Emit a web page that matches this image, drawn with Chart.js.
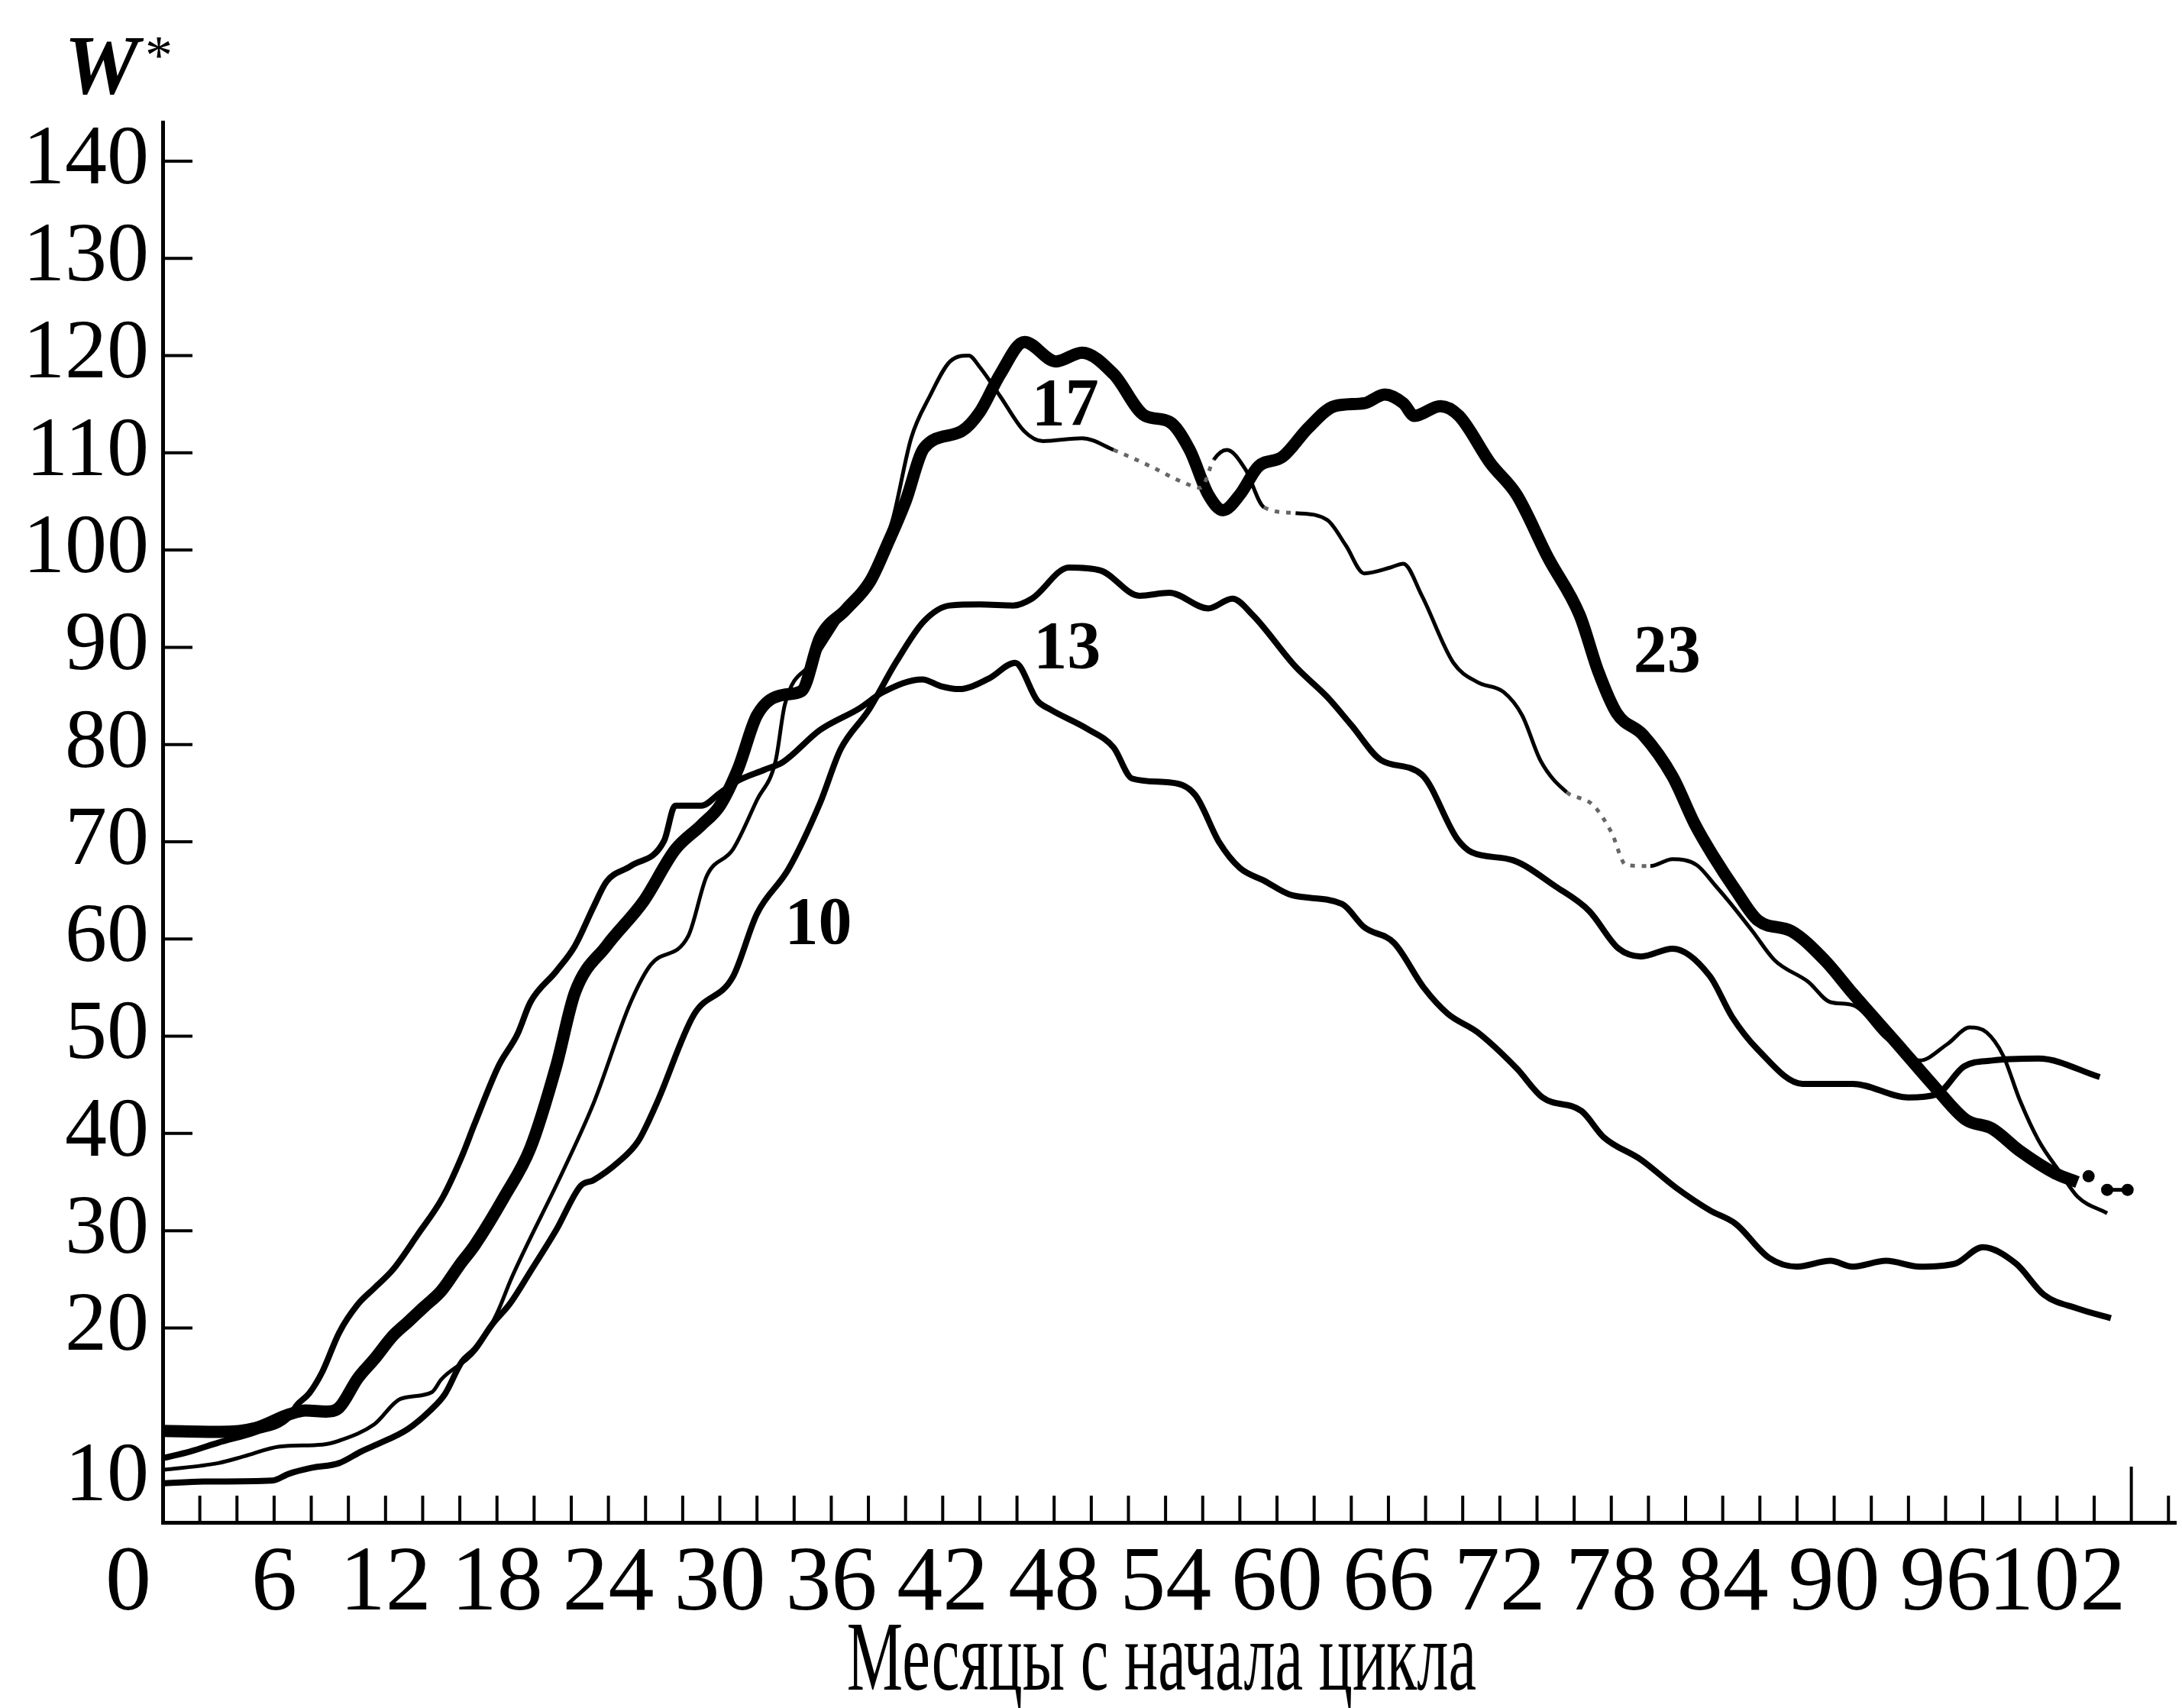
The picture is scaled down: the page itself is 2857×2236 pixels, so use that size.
<!DOCTYPE html>
<html>
<head>
<meta charset="utf-8">
<title>W* — месяцы с начала цикла</title>
<script src="https://cdn.jsdelivr.net/npm/chart.js@4/dist/chart.umd.min.js"></script>
<style>
  html, body { margin: 0; padding: 0; background: #fff; overflow: hidden; }
  canvas { display: block; }
</style>
</head>
<body>
<canvas id="chart" width="2857" height="2236"></canvas>
<script>
//Axis ticks
const xTickValues = [0, 6, 12, 18, 24, 30, 36, 42, 48, 54, 60, 66, 72, 78, 84, 90, 96, 102];
const yTickValues = [20, 30, 40, 50, 60, 70, 80, 90, 100, 110, 120, 130, 140];
const bottomLabel = '10';
const bottomLabelAt = 4.55;   // the "10" sits low on the printed axis, without a tick
const xTitle = 'Месяцы с начала цикла';
const yTitle = 'W';

//Cycle 10
const m10 = [0, 2.2, 5.9, 6.8, 8, 9.5, 10.7, 11.4, 13.2, 14.4, 15.2, 16.1, 16.8, 17.8, 18.7, 19.8, 21.2, 22.5, 23.2, 24.5,
  25.6, 26.6, 28.6, 30.7, 32, 33.7, 35.4, 36.5, 38, 39.5, 41, 42.4, 44, 45.8, 46.8, 48.8, 50.5, 52.6, 54.2, 56.3,
  57.6, 58.7, 61, 62.7, 64, 65.6, 67.8, 69.7, 70.5, 72.7, 75, 76.8, 78.4, 79.6, 81.3, 83.3, 84.5, 85.9, 88.3, 91,
  94, 95.5, 97, 98.5, 101, 104.3];
const w10 = [4.0, 4.2, 4.3, 5.0, 5.6, 6.1, 7.3, 7.9, 9.6, 11.5, 13.2, 16.5, 17.8, 20.5, 22.5, 25.8, 30.1, 34.6, 35.2, 37.0,
  39.2, 43.1, 52.2, 56.1, 62.6, 67.2, 74.0, 79.5, 83.5, 88.5, 92.7, 94.3, 94.4, 94.3, 95.0, 98.2, 97.9, 95.3, 95.6, 94.0,
  95.0, 93.3, 88.0, 84.9, 82.0, 78.4, 76.9, 70.3, 68.9, 68.1, 65.4, 62.9, 59.0, 58.2, 59.0, 56.2, 52.0, 48.6, 45.1, 45.1,
  43.7, 44.0, 46.9, 47.5, 47.7, 45.8];

//Cycle 13
const m13 = [0, 1.5, 3, 5, 6.8, 7.2, 7.9, 8.6, 9.5, 10.5, 11.4, 12.4, 13.7, 15.1, 16.1, 16.8, 18.1, 19.1, 19.8, 21.2,
  22.2, 23.2, 23.9, 25.2, 27, 27.6, 29, 30, 31, 32.4, 33.4, 35.4, 37.5, 38.8, 40.9, 41.9, 42.9, 44.5, 45.9, 47.1,
  47.8, 49.8, 51.2, 52.2, 54.2, 55.6, 56.9, 58, 59.3, 60.8, 63.5, 64.7, 66.3, 67.9, 69.2, 70.8, 72.9, 74.3, 76.4, 77.6,
  79.6, 81.5, 83.3, 84.7, 86.5, 88, 89.8, 91, 92.8, 94.6, 96.5, 98, 99.8, 101.3, 103.1, 104.9];
const w13 = [6.6, 7.3, 8.2, 9.3, 10.8, 12.0, 13.3, 15.5, 19.5, 22.4, 24.1, 26.0, 29.5, 33.5, 37.6, 41.0, 47.0, 50.2, 53.5, 56.7,
  59.3, 63.3, 65.9, 67.5, 70.1, 73.7, 73.7, 75.0, 76.3, 77.4, 78.2, 81.5, 83.7, 85.4, 86.7, 86.0, 85.7, 86.8, 88.4, 84.5,
  83.6, 81.6, 79.7, 76.5, 76.1, 74.8, 69.9, 67.3, 66.0, 64.5, 63.6, 61.2, 59.6, 55.0, 52.3, 50.4, 46.7, 43.7, 42.3, 39.6,
  37.3, 34.4, 32.1, 30.7, 27.2, 26.3, 26.9, 26.3, 26.9, 26.3, 26.6, 28.3, 26.6, 23.4, 22.0, 21.0];

//Cycle 17
const m17 = [0, 3, 4.4, 6.3, 8.6, 9.5, 11.4, 12.8, 14.5, 15, 16.9, 18, 18.8, 21.5, 23.2, 25.2, 26.3, 28.3, 29.3, 30.7,
  32, 33, 33.5, 35, 37, 38.5, 39.3, 40.3, 41.3, 42.4, 43.4, 44, 45.1, 46.4, 47.4, 49.5, 51.2, 53.2, 54.9, 55.9,
  56.6, 57.3, 58.3, 59.3, 61, 62.7, 63.7, 64.7, 66.1, 66.8, 67.8, 69.5, 70.8, 72.2, 73.2, 74.2, 75.6, 77, 78, 78.8,
  80.1, 81.3, 82.6, 83.6, 84.4, 85.6, 86.8, 88.6, 89.8, 91, 92.8, 94.6, 96.1, 97.3, 98.2, 99.1, 100, 101, 102.2, 103.1,
  104.7];
const w17 = [5.4, 6.1, 6.8, 7.8, 8.0, 8.4, 10.1, 12.7, 13.4, 14.7, 17.8, 21.5, 25.2, 35.9, 43.1, 53.5, 57.4, 60.3, 66.5, 69.2,
  74.3, 78.3, 84.1, 88.5, 94.5, 99.0, 103.1, 111.5, 115.8, 119.4, 120.0, 118.8, 115.8, 112.2, 111.2, 111.5, 110.3, 108.6, 107.0, 106.4,
  109.3, 110.3, 108.3, 104.4, 103.8, 103.1, 100.5, 97.6, 98.2, 98.6, 95.3, 88.4, 86.4, 85.4, 83.0, 78.3, 75.1, 73.8, 71.0, 67.6,
  67.5, 68.2, 67.6, 65.5, 63.7, 60.8, 57.8, 55.6, 53.5, 53.2, 49.8, 47.5, 49.2, 50.9, 50.4, 48.0, 43.4, 39.3, 35.9, 33.5,
  31.8];
// stretches where the printed thin line is faded / broken
const faded17 = [[50, 56], [58.8, 60.8], [75.5, 79.5]];

//Cycle 23
const m23 = [0, 3.1, 5, 6.8, 7.7, 8.8, 9.5, 10.5, 11.4, 12.4, 13.2, 14.1, 15, 16, 16.8, 18.4, 19.8, 21.2, 22.2, 23.9,
  25.9, 27.6, 29, 30, 31, 32, 33.4, 34.4, 35.4, 36.8, 38.1, 39, 40, 41, 43, 44, 45.1, 46.4, 48.1, 49.5,
  51.2, 52.9, 54.2, 55.3, 56.3, 57.1, 58, 59, 60.3, 61.7, 63.1, 64.7, 65.8, 66.8, 67.4, 68.8, 69.8, 71.5, 72.9, 74.6,
  76.3, 77.3, 78.3, 79.7, 81.3, 82.5, 83.5, 84.7, 85.9, 87.7, 89.5, 91, 93.4, 95.5, 97.1, 98.5, 100, 101.9, 103.1];
const w23 = [9.4, 9.3, 9.7, 11.1, 11.5, 11.4, 11.8, 14.8, 16.8, 19.2, 20.6, 22.2, 23.8, 26.5, 28.5, 33.5, 38.5, 47.0, 54.5, 59.3,
  63.9, 69.2, 71.7, 73.7, 77.6, 83.0, 85.1, 85.5, 91.0, 93.9, 96.8, 100.5, 105.0, 110.5, 112.2, 114.2, 118.1, 121.4, 119.4, 120.3,
  118.1, 113.8, 113.2, 110.3, 105.7, 104.1, 105.7, 108.6, 109.6, 112.6, 114.8, 115.1, 116.0, 115.1, 113.8, 114.8, 113.8, 108.9, 105.7, 99.2,
  93.3, 87.5, 83.2, 81.0, 76.7, 71.8, 68.5, 65.0, 61.9, 60.8, 57.8, 54.4, 49.2, 44.6, 41.4, 40.5, 38.2, 35.9, 35.0];

//Cycle 23 dots at the end (null breaks the line after the first dot)
const dotMonths = [103.7, 104.2, 104.7, 105.8];
const dotW = [35.6, null, 34.2, 34.2];

//Curve numbers
const curveNames = ['17', '13', '10', '23'];
const curveNameMonths = [48.6, 48.7, 35.3, 81.0];
const curveNameW = [115.2, 90.2, 61.8, 89.8];

const serif = "'Liberation Serif', 'Times New Roman', serif";

function toPoints(ms, ws) {
  return ms.map((m, i) => ({x: m, y: ws[i]}));
}

function series(label, ms, ws, width) {
  return {
    label: label,
    data: toPoints(ms, ws),
    borderColor: '#000',
    borderWidth: width,
    pointRadius: 0,
    fill: false,
    cubicInterpolationMode: 'monotone'
  };
}

function isFaded(c) {
  let m = c.p0.parsed.x;
  return faded17.some(r => m >= r[0] && m < r[1]);
}

//tick marks inside the frame, curve numbers, W* and the axis title
const extras = {
  id: 'extras',
  afterDraw(chart) {
    const ctx = chart.ctx;
    const x = chart.scales.x;
    const y = chart.scales.y;
    ctx.save();
    ctx.strokeStyle = '#000';
    ctx.fillStyle = '#000';
    ctx.lineWidth = 4;
    ctx.beginPath();
    for (let m = 2; m <= 108; m += 2) {
      let px = x.getPixelForValue(m);
      let len = m === 106 ? 73 : 35;
      ctx.moveTo(px, y.bottom);
      ctx.lineTo(px, y.bottom - len);
    }
    yTickValues.forEach(v => {
      let py = y.getPixelForValue(v);
      ctx.moveTo(x.left, py);
      ctx.lineTo(x.left + 39, py);
    });
    ctx.stroke();

    ctx.font = 'bold 88px ' + serif;
    ctx.textAlign = 'center';
    ctx.textBaseline = 'alphabetic';
    curveNames.forEach((name, i) => {
      ctx.fillText(name, x.getPixelForValue(curveNameMonths[i]), y.getPixelForValue(curveNameW[i]) + 29);
    });

    ctx.textAlign = 'left';
    ctx.font = 'bold italic 110px ' + serif;
    ctx.fillText(yTitle, 84, 122);
    ctx.font = '72px ' + serif;
    ctx.fillText('*', 190, 96);

    // condensed title, like the printed one
    ctx.save();
    ctx.translate(1521, 2212);
    ctx.scale(0.635, 1);
    ctx.textAlign = 'center';
    ctx.font = '130px ' + serif;
    ctx.fillText(xTitle, 0, 0);
    ctx.restore();
    ctx.restore();
  }
};

let c17 = series('17', m17, w17, 5);
c17.segment = {
  borderColor: c => isFaded(c) ? '#666' : undefined,
  borderDash: c => isFaded(c) ? [6, 9] : undefined
};

let dots = series('23 dots', dotMonths, dotW, 5);
dots.pointRadius = 8;
dots.pointBackgroundColor = '#000';
dots.pointBorderWidth = 0;
dots.spanGaps = false;

const chart = new Chart(document.getElementById('chart'), {
  type: 'line',
  data: {
    datasets: [
      c17,
      series('10', m10, w10, 8),
      series('13', m13, w13, 8),
      series('23', m23, w23, 16),
      dots
    ]
  },
  options: {
    responsive: false,
    animation: false,
    devicePixelRatio: 1,
    layout: {padding: {top: 160, left: 0, right: 0, bottom: 0}},
    plugins: {legend: {display: false}, tooltip: {enabled: false}},
    scales: {
      x: {
        type: 'linear',
        min: 0,
        max: 108.4,
        grid: {display: false, drawTicks: false},
        border: {display: true, color: '#000', width: 5},
        afterBuildTicks: scale => { scale.ticks = xTickValues.map(v => ({value: v})); },
        afterFit: scale => { scale.height = 243; },
        ticks: {
          autoSkip: false,
          maxRotation: 0,
          padding: 10,
          color: '#000',
          font: {family: serif, size: 120},
          callback: v => v === 0 ? '0\u00a0\u00a0\u00a0' : String(v)
        }
      },
      y: {
        min: 0,
        max: 144,
        grid: {display: false, drawTicks: false},
        border: {display: true, color: '#000', width: 5},
        afterBuildTicks: scale => {
          scale.ticks = [{value: bottomLabelAt}].concat(yTickValues.map(v => ({value: v})));
        },
        afterFit: scale => { scale.width = 213; },
        ticks: {
          autoSkip: false,
          padding: 18,
          color: '#000',
          font: {family: serif, size: 110},
          callback: v => v === bottomLabelAt ? bottomLabel : String(v)
        }
      }
    }
  },
  plugins: [extras]
});
</script>
</body>
</html>
